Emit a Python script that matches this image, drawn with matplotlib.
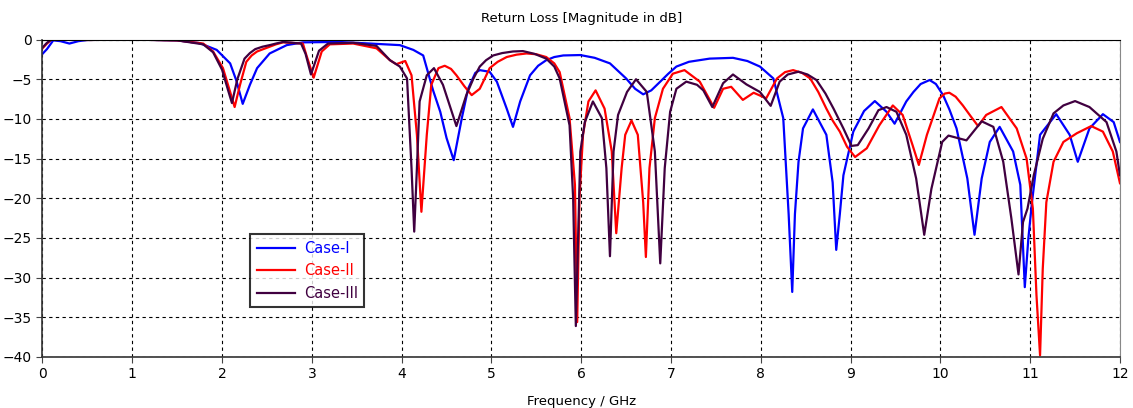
import numpy as np
import matplotlib
matplotlib.use('Agg')
import matplotlib.pyplot as plt

# Case-I (blue)
f1 = [0, 0.05, 0.12, 0.2, 0.3, 0.4, 0.5, 1.0, 1.5, 1.75,
      1.94, 2.09, 2.16, 2.23, 2.31, 2.39, 2.53, 2.72, 2.9, 3.3,
      3.65, 3.98, 4.13, 4.24, 4.35, 4.43, 4.50, 4.58, 4.67, 4.74,
      4.82, 4.87, 4.98, 5.06, 5.17, 5.24, 5.32, 5.43, 5.52, 5.61,
      5.7, 5.8, 5.99, 6.15, 6.32, 6.5, 6.6, 6.69, 6.78, 6.88,
      6.97, 7.06, 7.2, 7.43, 7.69, 7.85, 7.99, 8.14,
      8.25, 8.31, 8.35, 8.38, 8.42, 8.47, 8.58, 8.73, 8.80, 8.84,
      8.88, 8.92, 9.03, 9.15, 9.27, 9.40, 9.49, 9.62, 9.70, 9.78,
      9.88, 9.95, 10.03, 10.10, 10.18, 10.30, 10.38, 10.46, 10.55, 10.66,
      10.81, 10.89, 10.94, 10.98, 11.02, 11.11, 11.29, 11.44, 11.53, 11.66,
      11.81, 11.93, 12.0]
s1 = [-1.8, -1.2, -0.1, -0.2, -0.5, -0.2, -0.05, 0.0, -0.1, -0.45,
      -1.3, -3.0, -5.2, -8.1, -5.7, -3.6, -1.75, -0.7, -0.35, -0.3,
      -0.5, -0.7, -1.3, -2.0, -6.4, -9.1, -12.4, -15.2, -9.9, -6.2,
      -4.2, -3.85, -4.06, -5.3, -8.7, -11.0, -7.8, -4.5, -3.3, -2.6,
      -2.2, -2.0, -1.95, -2.3, -3.0, -4.9, -6.2, -6.9, -6.4, -5.3,
      -4.3, -3.4, -2.8, -2.4, -2.3, -2.7, -3.4, -4.9,
      -9.9, -22.0, -31.8, -22.0, -15.4, -11.2, -8.8, -12.0, -18.0, -26.5,
      -22.0, -17.1, -11.6, -9.0, -7.75, -9.1, -10.6, -7.8, -6.6, -5.6,
      -5.1, -5.6, -7.0, -8.8, -11.2, -17.5, -24.6, -17.5, -12.9, -11.0,
      -14.1, -18.3, -31.2, -25.0, -20.5, -12.0, -9.4, -12.0, -15.4, -11.2,
      -9.4, -10.4, -12.9]

# Case-II (red)
f2 = [0, 0.05, 0.1, 0.5, 1.0, 1.5, 1.79, 1.90, 2.01, 2.09,
      2.14, 2.20, 2.27, 2.33, 2.39, 2.46, 2.53, 2.60, 2.68, 2.90,
      2.94, 3.02, 3.11, 3.20, 3.46, 3.72, 3.87, 3.94, 4.04, 4.11,
      4.17, 4.22, 4.28, 4.33, 4.41, 4.48, 4.55, 4.61, 4.70, 4.78,
      4.87, 4.93, 4.98, 5.07, 5.17, 5.28, 5.39, 5.50, 5.61, 5.70,
      5.76, 5.87, 5.93, 5.955, 5.98, 6.02, 6.08, 6.16, 6.26, 6.34,
      6.39, 6.45, 6.49, 6.56, 6.63, 6.69, 6.72, 6.76, 6.82, 6.91,
      7.02, 7.15, 7.32, 7.48, 7.58, 7.67, 7.80, 7.92, 8.06, 8.18,
      8.27, 8.36, 8.46, 8.55, 8.64, 8.73, 8.80, 8.88, 8.96, 9.05,
      9.18, 9.32, 9.47, 9.58, 9.69, 9.76, 9.85, 9.99, 10.05, 10.10,
      10.17, 10.25, 10.34, 10.42, 10.51, 10.68, 10.85, 10.96, 11.03, 11.07,
      11.11, 11.14, 11.18, 11.26, 11.37, 11.52, 11.68, 11.81, 11.92, 12.0]
s2 = [-1.1, -0.5, 0.0, -0.05, 0.0, -0.1, -0.5, -1.5, -3.6, -6.6,
      -8.5, -5.7, -2.8, -2.0, -1.5, -1.2, -0.9, -0.6, -0.35, -0.5,
      -2.0, -4.8, -1.5, -0.6, -0.5, -1.1, -2.6, -3.1, -2.7, -4.5,
      -12.0, -21.7, -12.0, -5.7, -3.6, -3.3, -3.7, -4.5, -5.9, -7.0,
      -6.2, -4.8, -3.6, -2.8, -2.2, -1.9, -1.75, -1.85, -2.2, -3.0,
      -4.1, -9.9, -18.3, -35.6, -20.0, -12.0, -7.8, -6.4, -8.7, -14.1,
      -24.4, -16.2, -12.0, -10.2, -12.0, -20.5, -27.4, -16.2, -9.9, -6.2,
      -4.3, -3.85, -5.3, -8.6, -6.2, -5.95, -7.6, -6.7, -7.4, -4.9,
      -4.1, -3.85, -4.2, -4.9, -6.6, -8.7, -10.2, -11.6, -13.5, -14.8,
      -13.7, -10.8, -8.3, -9.5, -13.3, -15.8, -12.0, -7.4, -6.8, -6.7,
      -7.2, -8.3, -9.7, -10.9, -9.5, -8.5, -11.2, -15.0, -21.3, -32.2,
      -39.8, -28.9, -20.5, -15.4, -12.9, -11.8, -10.9, -11.6, -14.1, -18.1]

# Case-III (purple)
f3 = [0, 0.05, 0.1, 0.5, 1.0, 1.5, 1.79, 1.90, 2.00, 2.07,
      2.11, 2.17, 2.25, 2.31, 2.37, 2.45, 2.53, 2.60, 2.68, 2.88,
      2.93, 2.99, 3.08, 3.18, 3.46, 3.72, 3.87, 3.98, 4.06, 4.11,
      4.14, 4.17, 4.20, 4.28, 4.36, 4.46, 4.61, 4.72, 4.80, 4.87,
      4.94, 5.02, 5.12, 5.24, 5.35, 5.48, 5.61, 5.70, 5.76, 5.87,
      5.91, 5.94, 5.99, 6.04, 6.13, 6.23, 6.28, 6.32, 6.36, 6.41,
      6.51, 6.61, 6.73, 6.82, 6.88, 6.93, 6.99, 7.06, 7.17, 7.29,
      7.36, 7.46, 7.58, 7.69, 7.84, 7.99, 8.11, 8.21, 8.30, 8.42,
      8.52, 8.62, 8.72, 8.81, 8.92, 9.01, 9.08, 9.20, 9.31, 9.40,
      9.51, 9.62, 9.73, 9.82, 9.90, 10.02, 10.09, 10.29, 10.46, 10.59,
      10.70, 10.79, 10.87, 10.92, 10.97, 11.04, 11.14, 11.26, 11.37, 11.50,
      11.66, 11.85, 11.96, 12.0]
s3 = [-1.0, -0.4, 0.0, -0.05, 0.0, -0.1, -0.6, -1.6, -3.8, -6.5,
      -8.0, -5.0, -2.4, -1.7, -1.2, -0.9, -0.7, -0.5, -0.3, -0.5,
      -1.8, -4.4, -1.4, -0.5, -0.4, -0.8, -2.6, -3.4, -4.9, -16.2,
      -24.2, -16.2, -7.8, -4.5, -3.6, -5.7, -10.9, -7.0, -4.9, -3.4,
      -2.6, -2.0, -1.7, -1.5, -1.45, -1.8, -2.4, -3.4, -4.9, -10.8,
      -20.0, -36.1, -14.1, -10.4, -7.8, -9.9, -16.2, -27.3, -14.1, -9.5,
      -6.6, -5.0, -6.6, -14.1, -28.2, -16.2, -9.1, -6.2, -5.3, -5.7,
      -6.4, -8.5, -5.5, -4.4, -5.65, -6.6, -8.35, -5.3, -4.4, -4.05,
      -4.4, -5.1, -6.8, -8.7, -11.2, -13.4, -13.3, -11.2, -8.9, -8.5,
      -9.1, -12.0, -17.5, -24.6, -18.8, -12.9, -12.1, -12.7, -10.3, -11.0,
      -15.4, -22.5, -29.6, -23.0, -21.3, -17.1, -12.5, -9.3, -8.3, -7.75,
      -8.5, -10.4, -14.1, -17.1]

series = [
    (f1, s1, 'Case-I', '#0000ff'),
    (f2, s2, 'Case-II', '#ff0000'),
    (f3, s3, 'Case-III', '#400040'),
]

plt.rcParams['font.family'] = 'DejaVu Sans'

fig = plt.figure(figsize=(11.33, 4.08), dpi=100)
ax = fig.add_axes([0.0375, 0.125, 0.951, 0.778])

for f, s, nome, cor in series:
    ax.plot(f, s, color=cor, lw=1.6, label=nome)

ax.set_xlim(0, 12)
ax.set_ylim(-40, 0)
ax.set_xticks(np.arange(0, 13, 1))
ax.set_yticks(np.arange(-40, 1, 5))
ax.tick_params(direction='out', length=4, labelsize=10, color='#444444')
ax.grid(True, color='black', linestyle=(0, (3, 3)), linewidth=0.8)

for lado in ['left', 'bottom']:
    ax.spines[lado].set_color('#333333')
    ax.spines[lado].set_linewidth(1.2)
ax.spines['top'].set_color('black')
ax.spines['right'].set_color('#888888')

ax.set_title('Return Loss [Magnitude in dB]', fontsize=9.5, pad=13)
ax.set_xlabel('Frequency / GHz', fontsize=9.5, labelpad=10)

leg = ax.legend(loc='upper left', bbox_to_anchor=(0.193, 0.386), fontsize=10.5,
                frameon=True, fancybox=False, edgecolor='black',
                handlelength=2.6, handletextpad=0.6, borderpad=0.45,
                labelspacing=0.5, borderaxespad=0)
leg.get_frame().set_linewidth(1.5)
for txt, (_, _, _, cor) in zip(leg.get_texts(), series):
    txt.set_color(cor)

plt.savefig('out.png', dpi=100)
